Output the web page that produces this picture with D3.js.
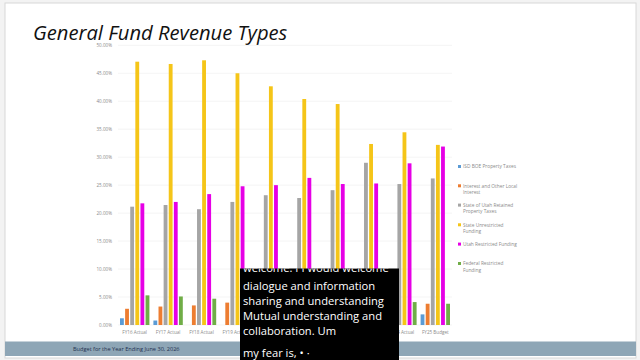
<!DOCTYPE html>
<html><head><meta charset="utf-8">
<script src="https://cdn.jsdelivr.net/npm/d3@7"></script>
<style>html,body{margin:0;padding:0;background:#f3f3f3;}svg{display:block;}</style>
</head><body>
<script>
const categories = ["FY16 Actual","FY17 Actual","FY18 Actual","FY19 Actual","FY20 Actual","FY21 Actual","FY22 Actual","FY23 Actual","FY24 Actual","FY25 Budget"];
const seriesNames = ["ISD BOE Property Taxes","Interest and Other Local Interest","State of Utah Retained Property Taxes","State Unrestricted Funding","Utah Restricted Funding","Federal Restricted Funding"];
const legendLines = [["ISD BOE Property Taxes"],["Interest and Other Local","Interest"],["State of Utah Retained","Property Taxes"],["State Unrestricted","Funding"],["Utah Restricted Funding"],["Federal Restricted","Funding"]];
const isdBoe      = [1.2, 0.8, 0, 0, 0, 0, 0, 1.4, 1.6, 1.9];
const interest    = [2.9, 3.3, 3.5, 4.0, 3.9, 3.8, 3.7, 3.6, 3.7, 3.8];
const stateRetained = [21.15, 21.45, 20.7, 22.0, 23.2, 22.7, 24.1, 29.0, 25.2, 26.2];
const stateUnrestricted = [47.07, 46.66, 47.32, 45.0, 42.67, 40.4, 39.5, 32.36, 34.45, 32.2];
const utahRestricted = [21.75, 22.0, 23.4, 24.8, 25.0, 26.3, 25.2, 25.3, 28.9, 31.9];
const federal     = [5.3, 5.1, 4.7, 4.5, 4.3, 4.2, 4.0, 4.2, 4.1, 3.8];
const yTicks = [0,5,10,15,20,25,30,35,40,45,50];
const colors = ["#5b9bd5","#ed7d31","#a5a5a5","#f5c518","#e600e6","#70ad47"];
const captionLines = ["welcome. I I would welcome","dialogue and information","sharing and understanding","Mutual understanding and","collaboration. Um"];
const captionLast = "my fear is, \u2022 \u00b7";

const series = [isdBoe, interest, stateRetained, stateUnrestricted, utahRestricted, federal];

const W = 640, H = 360;
const svg = d3.select("body").append("svg").attr("width", W).attr("height", H);

// slide
svg.append("rect").attr("x",5).attr("y",3).attr("width",631).attr("height",355)
  .attr("fill","#fff").attr("stroke","#d8d8d8").attr("stroke-width",1);

svg.append("text").attr("x",33).attr("y",39.5)
  .attr("font-family","'Open Sans', sans-serif").attr("font-style","italic")
  .attr("font-size",20.2).attr("fill","#111").text("General Fund Revenue Types");

const y = d3.scaleLinear().domain([0,50]).range([325,45.3]);
const x0 = d3.scaleBand().domain(categories).range([118,452]).paddingInner(0.12).paddingOuter(0.06);
const x1 = d3.scaleBand().domain(d3.range(6)).range([0,x0.bandwidth()]).paddingInner(0.25);

// grid
const g = svg.append("g");
g.selectAll("line.grid").data(yTicks).join("line")
  .attr("x1",118).attr("x2",452).attr("y1",d=>y(d)).attr("y2",d=>y(d))
  .attr("stroke","#ececec").attr("stroke-width",0.6);

const yAxis = d3.axisLeft(y).tickValues(yTicks).tickFormat(d=>d.toFixed(2)+"%").tickSize(0).tickPadding(6);
const ya = svg.append("g").attr("transform","translate(118,0)").call(yAxis);
ya.select(".domain").remove();
ya.selectAll("text").attr("font-family","'Open Sans', sans-serif").attr("font-size",4.6).attr("fill","#8a8a8a");

const groups = svg.append("g").selectAll("g").data(categories).join("g")
  .attr("transform", c=>`translate(${x0(c)},0)`);
groups.selectAll("rect").data((c,i)=>series.map((s,k)=>({k, v:s[i]}))).join("rect")
  .attr("x", d=>x1(d.k)).attr("width", x1.bandwidth())
  .attr("y", d=>y(d.v)).attr("height", d=>y(0)-y(d.v))
  .attr("fill", d=>colors[d.k]);

const xAxis = d3.axisBottom(x0).tickSize(0).tickPadding(5);
const xa = svg.append("g").attr("transform","translate(0,326)").call(xAxis);
xa.select(".domain").remove();
xa.selectAll("text").attr("font-family","'Open Sans', sans-serif").attr("font-size",4.6).attr("fill","#8a8a8a");

// legend
const legY = [166.7, 186, 205.3, 225, 244.3, 263.7];
const leg = svg.append("g").selectAll("g").data(seriesNames).join("g")
  .attr("transform",(d,i)=>`translate(458,${legY[i]})`);
leg.append("rect").attr("x",0).attr("y",-1.7).attr("width",3).attr("height",3).attr("fill",(d,i)=>colors[i]);
leg.each(function(d,i){
  const t = d3.select(this).append("text").attr("font-family","'Open Sans', sans-serif")
    .attr("font-size",4.8).attr("fill","#8a8a8a");
  legendLines[i].forEach((ln,j)=>t.append("tspan").attr("x",5).attr("y",1.6+j*6.5).text(ln));
});

// footer band
svg.append("rect").attr("x",5).attr("y",341.5).attr("width",631).attr("height",14.5).attr("fill","#8ea6b6");
svg.append("text").attr("x",73).attr("y",351).attr("font-family","'Open Sans', sans-serif")
  .attr("font-size",5.6).attr("fill","#1f3050").text("Budget for the Year Ending June 30, 2026");

// caption overlay
svg.append("rect").attr("x",240).attr("y",268.5).attr("width",159).attr("height",91.5).attr("fill","#000");
const cap = svg.append("g");
cap.append("clipPath").attr("id","capclip").append("rect").attr("x",240).attr("y",268.5).attr("width",159).attr("height",91.5);
const ct = cap.append("text").attr("clip-path","url(#capclip)").attr("font-family","'Open Sans', sans-serif")
  .attr("font-size",11.2).attr("fill","#fff");
captionLines.forEach((ln,j)=>ct.append("tspan").attr("x",243).attr("y",j===0 ? 272 : 274.5+j*15).text(ln));
ct.append("tspan").attr("x",243).attr("y",356.5).text(captionLast);
</script>
</body></html>
